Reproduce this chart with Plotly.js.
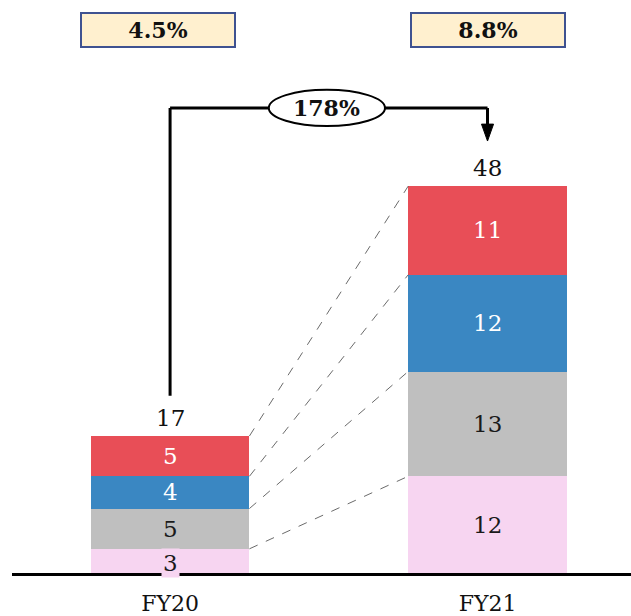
<!DOCTYPE html>
<html>
<head>
<meta charset="utf-8">
<script src="https://cdn.plot.ly/plotly-3.0.1.min.js"></script>
<style>html,body{margin:0;padding:0;background:#fff;}#chart{width:631px;height:616px;}</style>
</head>
<body>
<div id="chart"></div>
<script>
// ---- data ----
const categories = ["FY20", "FY21"];
const seriesPink = [3, 12];
const seriesGray = [5, 13];
const seriesBlue = [4, 12];
const seriesRed  = [5, 11];
const totals = [17, 48];
const marginLabels = ["4.5%", "8.8%"];
const growthLabel = "178%";

// ---- styles ----
const colors = {pink: "#F7D5F1", gray: "#BFBFBF", blue: "#3A87C2", red: "#E84E57"};
const serif = "DejaVu Serif";
const fs = 23;
const barWidth = 0.5;
const xIdx = [0, 1];

const layers = [
  {name: "pink", vals: seriesPink, color: colors.pink, txt: "#1a1a1a"},
  {name: "gray", vals: seriesGray, color: colors.gray, txt: "#1a1a1a"},
  {name: "blue", vals: seriesBlue, color: colors.blue, txt: "#ffffff"},
  {name: "red",  vals: seriesRed,  color: colors.red,  txt: "#ffffff"}
];

const traces = [];
layers.forEach(l => {
  traces.push({
    type: "bar", x: xIdx, y: l.vals, width: barWidth,
    marker: {color: l.color, line: {width: 0}},
    hoverinfo: "skip", showlegend: false
  });
});

// cumulative tops
const cum = [[0,0]];
layers.forEach((l, i) => cum.push([cum[i][0] + l.vals[0], cum[i][1] + l.vals[1]]));

// dashed connectors from FY20 segment tops to FY21 segment tops
for (let k = 1; k < cum.length; k++) {
  traces.push({
    type: "scatter", mode: "lines",
    x: [xIdx[0] + barWidth/2, xIdx[1] - barWidth/2],
    y: [cum[k][0], cum[k][1]],
    line: {color: "#444", width: 0.8, dash: "dash"},
    hoverinfo: "skip", showlegend: false
  });
}

const annotations = [];
layers.forEach((l, i) => {
  xIdx.forEach(j => {
    const a = {
      x: j, y: cum[i][j] + l.vals[j] / 2, xref: "x", yref: "y",
      text: String(l.vals[j]), showarrow: false,
      font: {family: serif, size: fs, color: l.txt}
    };
    if (i === 0 && j === 0) { a.bgcolor = colors.pink; a.borderpad = 1; a.yshift = -2; }
    annotations.push(a);
  });
});
// totals
xIdx.forEach(j => {
  annotations.push({
    x: j, y: totals[j], xref: "x", yref: "y", yanchor: "bottom", yshift: 3,
    text: String(totals[j]), showarrow: false,
    font: {family: serif, size: fs, color: "#111"}
  });
});
// margin boxes
const boxX = [-0.038, 1.0];
xIdx.forEach(j => {
  annotations.push({
    x: boxX[j], y: 1, xref: "x", yref: "paper", yanchor: "top", yshift: -12,
    text: "<b>" + marginLabels[j] + "</b>", showarrow: false,
    width: 152, height: 32,
    bgcolor: "#FFF0CF", bordercolor: "#3F5291", borderwidth: 2, borderpad: 0,
    font: {family: serif, size: fs - 1, color: "#111"}
  });
});
// growth bubble
const bracketY = 57.7;
annotations.push({
  x: 0.494, y: bracketY, xref: "x", yref: "y",
  text: "<b>" + growthLabel + "</b>", showarrow: false,
  font: {family: serif, size: fs - 1, color: "#111"}
});

const shapes = [
  // bracket
  {type: "line", xref: "x", yref: "y", x0: 0, x1: 0, y0: 22.0, y1: bracketY, line: {color: "#000", width: 3}},
  {type: "line", xref: "x", yref: "y", x0: 0, x1: 1, y0: bracketY, y1: bracketY, line: {color: "#000", width: 3}},
  {type: "line", xref: "x", yref: "y", x0: 1, x1: 1, y0: bracketY, y1: 55.5, line: {color: "#000", width: 3}},
  {type: "path", xref: "x", yref: "y",
   path: "M 0.981 55.7 L 1.019 55.7 L 1 53.6 Z", fillcolor: "#000", line: {color: "#000", width: 1}},
  // ellipse
  {type: "circle", xref: "x", yref: "y", x0: 0.311, x1: 0.677, y0: bracketY - 2.25, y1: bracketY + 2.25,
   fillcolor: "#fff", line: {color: "#000", width: 2}, layer: "above"}
];

const layout = {
  width: 631, height: 616,
  margin: {l: 12, r: 0, t: 0, b: 43},
  paper_bgcolor: "#fff", plot_bgcolor: "#fff",
  barmode: "stack",
  bargap: 0,
  xaxis: {
    range: [-0.498, 1.452], tickvals: xIdx, ticktext: categories,
    showgrid: false, zeroline: false, showline: true, linecolor: "#000", linewidth: 3,
    ticks: "", tickfont: {family: serif, size: fs - 1, color: "#111"}, ticklabelstandoff: 9,
    fixedrange: true
  },
  yaxis: {range: [0, 71.1], visible: false, showgrid: false, zeroline: false, fixedrange: true},
  annotations: annotations,
  shapes: shapes,
  showlegend: false
};

Plotly.newPlot("chart", traces, layout, {displayModeBar: false, staticPlot: true});
</script>
</body>
</html>
